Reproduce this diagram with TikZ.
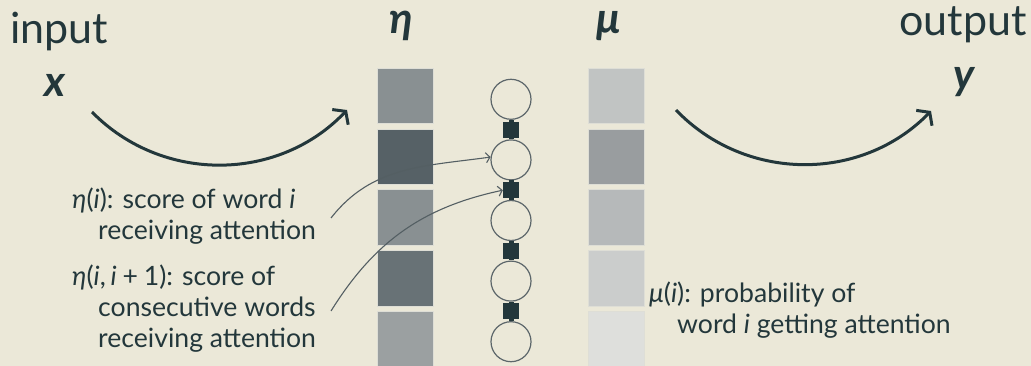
\documentclass[tikz,border=0pt]{standalone}
\usepackage{fontspec}
\setmainfont{Lato}[Ligatures={Common,Rare}]
\usetikzlibrary{arrows.meta}
\definecolor{bg}{RGB}{235,232,216}
\definecolor{ink}{RGB}{35,55,59}
\definecolor{ringc}{RGB}{92,102,106}
\definecolor{thinc}{RGB}{84,95,99}
\definecolor{ea}{RGB}{137,144,146}
\definecolor{eb}{RGB}{86,97,102}
\definecolor{ec}{RGB}{137,144,146}
\definecolor{ed}{RGB}{104,114,118}
\definecolor{ee}{RGB}{155,160,161}
\definecolor{ma}{RGB}{193,196,195}
\definecolor{mb}{RGB}{153,157,159}
\definecolor{mc}{RGB}{182,185,186}
\definecolor{md}{RGB}{203,205,204}
\definecolor{me}{RGB}{222,223,220}
\definecolor{cellline}{RGB}{222,222,214}
\begin{document}
\begin{tikzpicture}[x=1pt,y=1pt,
  cell/.style={draw=cellline, line width=0.8pt, minimum width=56pt, minimum height=55.5pt, inner sep=0pt, outer sep=0pt, anchor=north west},
  ring/.style={circle, draw=ringc, line width=1.2pt, minimum size=40pt, inner sep=0pt},
  factor/.style={fill=ink, minimum size=16pt, inner sep=0pt},
  stub/.style={draw=ink, line width=5pt},
  big/.style={font=\fontsize{43}{43}\selectfont, text=ink, inner sep=0pt},
  lab/.style={font=\fontsize{26.6}{31}\selectfont, text=ink, inner sep=0pt, align=left, anchor=base west},
  bigarrow/.style={draw=ink, line width=3pt, -{Straight Barb[length=8pt,width=22pt]}},
  thinarrow/.style={draw=thinc, line width=1.1pt, -{Straight Barb[length=4pt,width=10pt]}}
]
\fill[bg] (0,0) rectangle (1031,-366);
\useasboundingbox (0,0) rectangle (1031,-366);

% eta column
\node[cell, fill=ea] (e1) at (377,-68.3) {};
\node[cell, fill=eb] (e2) at (377,-129.0) {};
\node[cell, fill=ec] (e3) at (377,-189.7) {};
\node[cell, fill=ed] (e4) at (377,-250.4) {};
\node[cell, fill=ee] (e5) at (377,-311.1) {};
% mu column
\node[cell, fill=ma] (m1) at (588,-68.3) {};
\node[cell, fill=mb] (m2) at (588,-129.0) {};
\node[cell, fill=mc] (m3) at (588,-189.7) {};
\node[cell, fill=md] (m4) at (588,-250.4) {};
\node[cell, fill=me] (m5) at (588,-311.1) {};

% chain
\node[ring] (c1) at (511,-99.3) {};
\node[ring] (c2) at (511,-159.9) {};
\node[ring] (c3) at (511,-220.5) {};
\node[ring] (c4) at (511,-281.1) {};
\node[ring] (c5) at (511,-341.7) {};
\draw[stub] (c1) -- (c2);
\draw[stub] (c2) -- (c3);
\draw[stub] (c3) -- (c4);
\draw[stub] (c4) -- (c5);
\node[factor] (f1) at (511,-129.6) {};
\node[factor] (f2) at (511,-190.2) {};
\node[factor] (f3) at (511,-250.8) {};
\node[factor] (f4) at (511,-311.4) {};

% headings
\node[big, anchor=base west] (tin) at (10,-43.5) {input};
\node[big, anchor=base west] (tx) at (44,-97) {\textbf{\textit{x}}};
\node[big, anchor=base west] (teta) at (389,-33.5) {\textbf{\textit{η}}};
\node[big, anchor=base west] (tmu) at (596,-33.5) {\textbf{\textit{μ}}};
\node[big, anchor=base east] (tout) at (1027,-35.5) {output};
\node[big, anchor=base west] (ty) at (953,-90) {\textbf{\textit{y}}};

% big arrows
\coordinate (la) at (92,-112);
\coordinate (lb) at (347,-110);
\coordinate (ra) at (676,-110);
\coordinate (rb) at (931,-111);
\draw[bigarrow] (la) to[bend right=46] (lb);
\draw[bigarrow] (ra) to[bend right=46] (rb);

% labels (base = last line)
\node[lab] (l1) at (72,-240) {\textit{η}(\textit{i}): score of word \textit{i}\\\hspace*{26pt}receiving attention};
\node[lab] (l2) at (72,-347.3) {\textit{η}(\textit{i},\hspace{0.18em}\textit{i}\hspace{0.22em}+\hspace{0.22em}1): score of\\\hspace*{26pt}consecutive words\\\hspace*{26pt}receiving attention};
\node[lab] (l3) at (649,-333.3) {\textit{μ}(\textit{i}): probability of\\\hspace*{28pt}word \textit{i} getting attention};

% thin arrows
\coordinate (p1) at (331,-218);
\coordinate (p2) at (331,-311);
\draw[thinarrow] (p1) to[out=52,in=188] (c2.172);
\draw[thinarrow] (p2) to[out=58,in=192] (f2.west);
\end{tikzpicture}
\end{document}
